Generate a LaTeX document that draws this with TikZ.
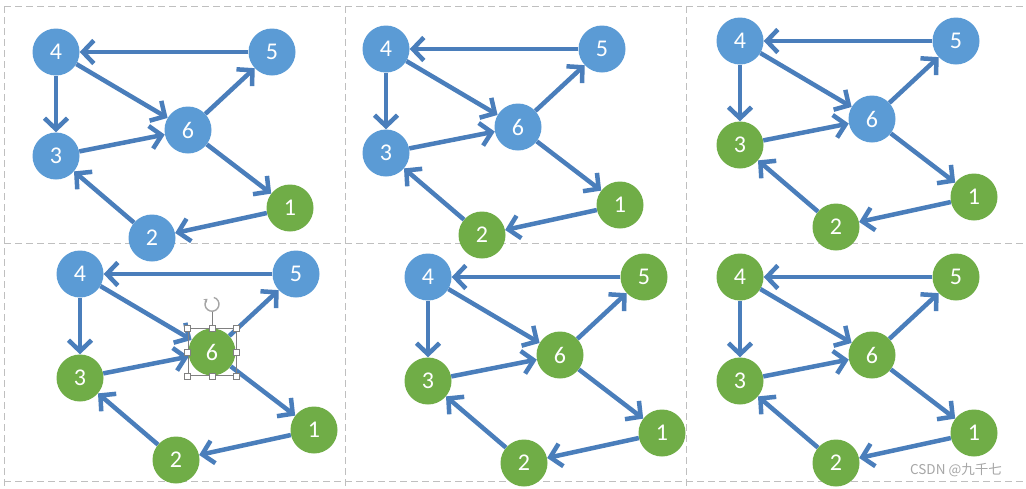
\documentclass[tikz,border=0pt]{standalone}
\usepackage{fontspec}
\setmainfont{Carlito}
\newfontfamily\cjk{Noto Sans CJK SC}
\usetikzlibrary{arrows.meta}
\definecolor{nblue}{HTML}{5B9BD5}
\definecolor{ngreen}{HTML}{70AD47}
\definecolor{edgeblue}{HTML}{4A7EBB}
\definecolor{gridgray}{HTML}{BFBFBF}
\definecolor{wmgray}{HTML}{A6A6A6}
\tikzset{
  vtx/.style={circle, minimum size=47pt, inner sep=0pt, text=white,
    font=\fontsize{24}{24}\selectfont},
  edge/.style={draw=edgeblue, line width=4.5pt,
    -{Straight Barb[length=11pt,width=23pt]}},
  gridline/.style={draw=gridgray, line width=1pt, dash pattern=on 7pt off 4pt},
  handle/.style={draw=gray, fill=white, line width=0.6pt, minimum size=6pt,
    inner sep=0pt, rectangle}
}
% #1 prefix, #2 x, #3 y, #4..#9 colours of nodes 1..6
\newcommand\graphpanel[9]{%
  \begin{scope}[shift={(#2,#3)}]
    \node[vtx, fill=#7] (#1n4) at (0,0) {4};
    \node[vtx, fill=#8] (#1n5) at (216,0) {5};
    \node[vtx, fill=#9] (#1n6) at (132,78) {6};
    \node[vtx, fill=#6] (#1n3) at (0,104) {3};
    \node[vtx, fill=#4] (#1n1) at (234,156) {1};
    \node[vtx, fill=#5] (#1n2) at (96,186) {2};
  \end{scope}
  \draw[edge] (#1n5) -- (#1n4);
  \draw[edge] (#1n4) -- (#1n3);
  \draw[edge] (#1n4) -- (#1n6);
  \draw[edge] (#1n3) -- (#1n6);
  \draw[edge] (#1n6) -- (#1n5);
  \draw[edge] (#1n6) -- (#1n1);
  \draw[edge] (#1n1) -- (#1n2);
  \draw[edge] (#1n2) -- (#1n3);
}
\begin{document}
\begin{tikzpicture}[x=1pt, y=-1pt]
  \useasboundingbox[fill=white] (0,0) rectangle (1026,488);
  % grid
  \coordinate (gtl) at (4,6);
  \coordinate (gtr) at (1026,6);
  \coordinate (gbl) at (4,488);
  \coordinate (gm1t) at (345,6);
  \coordinate (gm1b) at (345,488);
  \coordinate (gm2t) at (686,6);
  \coordinate (gm2b) at (686,488);
  \coordinate (gh1l) at (4,243);
  \coordinate (gh1r) at (1026,243);
  \coordinate (gh2l) at (4,481);
  \coordinate (gh2r) at (1026,481);
  \draw[gridline] (gtl) -- (gtr);
  \draw[gridline] (gtl) -- (gbl);
  \draw[gridline] (gm1t) -- (gm1b);
  \draw[gridline] (gm2t) -- (gm2b);
  \draw[gridline] (gh1l) -- (gh1r);
  \draw[gridline] (gh2l) -- (gh2r);

  \graphpanel{a}{56}{52}{ngreen}{nblue}{nblue}{nblue}{nblue}{nblue}
  \graphpanel{b}{386}{49}{ngreen}{ngreen}{nblue}{nblue}{nblue}{nblue}
  \graphpanel{c}{740}{41}{ngreen}{ngreen}{ngreen}{nblue}{nblue}{nblue}
  \graphpanel{d}{80}{274}{ngreen}{ngreen}{ngreen}{nblue}{nblue}{ngreen}
  \graphpanel{e}{428}{277}{ngreen}{ngreen}{ngreen}{nblue}{ngreen}{ngreen}
  \graphpanel{f}{740}{277}{ngreen}{ngreen}{ngreen}{ngreen}{ngreen}{ngreen}

  % selection handles around node 6 of panel d
  \node[draw=gray, line width=0.6pt, minimum width=48pt, minimum height=47pt,
        inner sep=0pt] (selbox) at (dn6) {};
  \coordinate (rot) at ([yshift=24pt]selbox.north);
  \draw[gray, line width=0.6pt] (selbox.north) -- ([yshift=-7.5pt]rot);
  \draw[gray!70, line width=1.4pt, -{Stealth[length=3.5pt,width=5pt]}]
    ([shift={(75:7pt)}]rot) arc[start angle=75, end angle=-230, radius=7pt];
  \foreach \a in {north west,north,north east,east,south east,south,south west,west}
    \node[handle] at (selbox.\a) {};

  % watermark
  \node[text=wmgray, font=\cjk\fontsize{13.5}{13.5}\selectfont, inner sep=0pt]
    (wm) at (956,470) {CSDN @九千七};
\end{tikzpicture}
\end{document}
